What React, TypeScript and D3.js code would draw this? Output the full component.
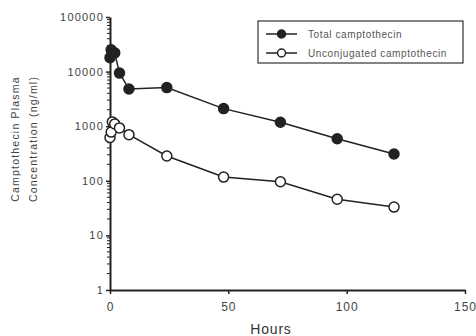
import { useEffect, useRef } from "react";
import * as d3 from "d3";

const hours = [0, 0.5, 1, 2, 4, 8, 24, 48, 72, 96, 120];
const totalCpt = [18000, 25000, 22000, 22000, 9400, 4800, 5100, 2100, 1180, 590, 310];
const unconjCpt = [620, 780, 1200, 1100, 930, 700, 285, 117, 96, 46, 33];
const xTicks = [0, 50, 100, 150];
const yTicks = [1, 10, 100, 1000, 10000, 100000];
const seriesNames = ["Total camptothecin", "Unconjugated camptothecin"];

const App = () => {
  const svgRef = useRef<SVGSVGElement>(null);

  useEffect(() => {
    const W = 476;
    const H = 336;
    const svg = d3.select(svgRef.current).attr("width", W).attr("height", H);
    svg.selectAll("*").remove();

    const x = d3.scaleLinear().domain([0, 150]).range([110, 465]);
    const y = d3.scaleLog().domain([1, 100000]).range([290, 17]);
    const font = "Arial, 'Liberation Sans', sans-serif";
    const ink = "#222";

    const g = svg.append("g");

    // y axis
    const yAxis = g.append("g").attr("transform", `translate(${x(0)},0)`);
    yAxis.call(
      d3.axisLeft(y).tickValues(yTicks).tickFormat(d3.format("d")).tickSize(4).tickSizeOuter(0)
    );
    yAxis.select(".domain").attr("stroke", ink).attr("stroke-width", 2);
    yAxis.selectAll(".tick line").attr("stroke", ink).attr("stroke-width", 1.5);
    yAxis
      .selectAll(".tick text")
      .attr("font-family", font)
      .attr("font-size", 11)
      .attr("letter-spacing", 1.2)
      .attr("fill", "#444")
      .attr("x", -6);

    const minors: number[] = [];
    for (let p = 0; p < 5; p++) for (let m = 2; m <= 9; m++) minors.push(m * Math.pow(10, p));
    yAxis
      .selectAll(".minor")
      .data(minors)
      .enter()
      .append("line")
      .attr("x1", -3)
      .attr("x2", 0)
      .attr("y1", (d) => y(d))
      .attr("y2", (d) => y(d))
      .attr("stroke", ink)
      .attr("stroke-width", 1);

    // x axis
    const xAxis = g.append("g").attr("transform", `translate(0,${y(1)})`);
    xAxis.call(d3.axisBottom(x).tickValues(xTicks).tickSize(4).tickSizeOuter(0));
    xAxis.select(".domain").attr("stroke", ink).attr("stroke-width", 2);
    xAxis.selectAll(".tick line").attr("stroke", ink).attr("stroke-width", 1.5);
    xAxis
      .selectAll(".tick text")
      .attr("font-family", font)
      .attr("font-size", 12)
      .attr("letter-spacing", 1)
      .attr("fill", "#444")
      .attr("y", 12);

    g.append("text")
      .attr("x", 271)
      .attr("y", 334)
      .attr("text-anchor", "middle")
      .attr("font-family", font)
      .attr("font-size", 14)
      .attr("letter-spacing", 0.8)
      .attr("fill", "#333")
      .text("Hours");

    const yl = g
      .append("text")
      .attr("transform", `translate(0,139) rotate(-90)`)
      .attr("text-anchor", "middle")
      .attr("font-family", font)
      .attr("font-size", 10.5)
      .attr("letter-spacing", 1.2)
      .attr("fill", "#444");
    yl.append("tspan").attr("x", 0).attr("y", 19).text("Camptothecin Plasma");
    yl.append("tspan").attr("x", 0).attr("y", 37).text("Concentration (ng/ml)");

    const line = d3
      .line<number>()
      .x((_, i) => x(hours[i]))
      .y((d) => y(d));

    const series = [
      { values: totalCpt, fill: ink },
      { values: unconjCpt, fill: "#fff" },
    ];

    series.forEach((s) => {
      g.append("path")
        .attr("d", line(s.values))
        .attr("fill", "none")
        .attr("stroke", ink)
        .attr("stroke-width", 1.5);
      g.selectAll(null)
        .data(s.values)
        .enter()
        .append("circle")
        .attr("cx", (_, i) => x(hours[i]))
        .attr("cy", (d) => y(d))
        .attr("r", 5)
        .attr("fill", s.fill)
        .attr("stroke", ink)
        .attr("stroke-width", 1.5);
    });

    // legend
    const lg = g.append("g");
    lg.append("rect")
      .attr("x", 258)
      .attr("y", 21)
      .attr("width", 205)
      .attr("height", 42)
      .attr("fill", "#fff")
      .attr("stroke", "#333")
      .attr("stroke-width", 1.2);
    seriesNames.forEach((name, i) => {
      const ly = 34 + i * 19;
      lg.append("line")
        .attr("x1", 266)
        .attr("x2", 297)
        .attr("y1", ly)
        .attr("y2", ly)
        .attr("stroke", ink)
        .attr("stroke-width", 1.5);
      lg.append("circle")
        .attr("cx", 281.5)
        .attr("cy", ly)
        .attr("r", 4)
        .attr("fill", series[i].fill)
        .attr("stroke", ink)
        .attr("stroke-width", 1.5);
      lg.append("text")
        .attr("x", 308)
        .attr("y", ly + 3.5)
        .attr("font-family", font)
        .attr("font-size", 10)
        .attr("letter-spacing", 0.6)
        .attr("fill", "#555")
        .text(name);
    });
  }, []);

  return <svg ref={svgRef} style={{ position: "absolute", left: 0, top: 0 }} />;
};

export default App;
